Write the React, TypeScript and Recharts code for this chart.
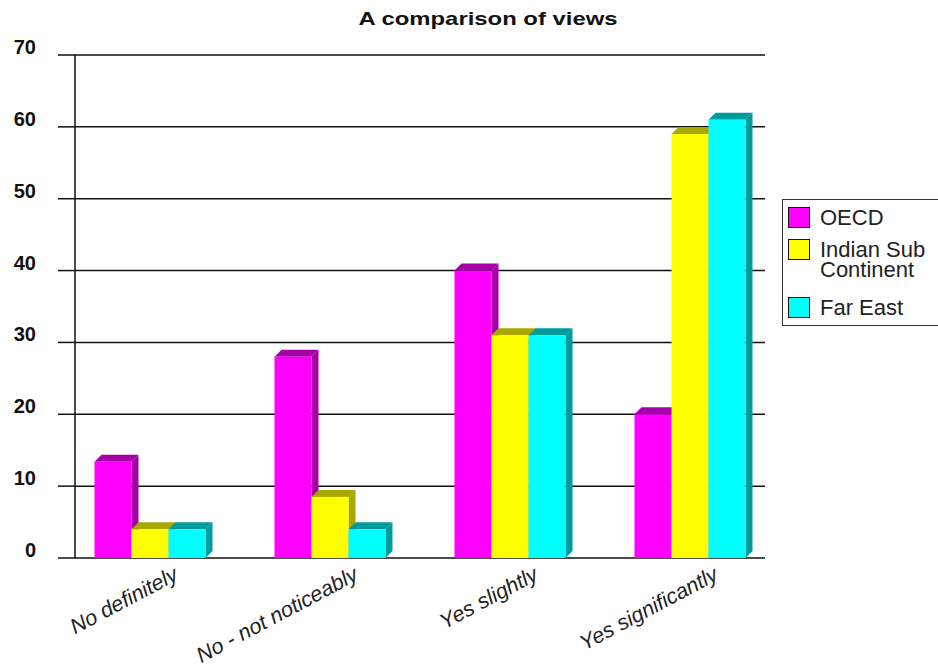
import React from 'react';
import { BarChart, Bar, XAxis, YAxis, CartesianGrid, Legend } from 'recharts';

const categories = ['No definitely', 'No - not noticeably', 'Yes slightly', 'Yes significantly'];
const oecd = [13.4, 28, 40, 20];
const indianSub = [4, 8.5, 31, 59];
const farEast = [4, 4, 31, 61];
const yTicks = [0, 10, 20, 30, 40, 50, 60, 70];
const seriesNames = ['OECD', 'Indian Sub Continent', 'Far East'];
const seriesLegendLines = [['OECD'], ['Indian Sub', 'Continent'], ['Far East']];
const seriesKeys = ['oecd', 'indian', 'far'];
const seriesColors = ['#FF00FF', '#FFFF00', '#00FFFF'];
const seriesDark = ['#A800A8', '#A8A800', '#009C9C'];

const data = categories.map((c, i) => ({
  category: c,
  oecd: oecd[i],
  indian: indianSub[i],
  far: farEast[i],
}));

const FONT = '"Liberation Sans", Arial, Helvetica, sans-serif';
const DEPTH = 7;

const make3D = (dark: string) => (props: any) => {
  const { x, y, width, height, fill } = props;
  if (x == null || y == null || !width || height == null) return null;
  const d = DEPTH;
  const top = `${x},${y} ${x + d},${y - d} ${x + width + d},${y - d} ${x + width},${y}`;
  const side = `${x + width},${y} ${x + width + d},${y - d} ${x + width + d},${y + height - d} ${x + width},${y + height}`;
  return (
    <g>
      <polygon points={side} fill={dark} />
      <polygon points={top} fill={dark} />
      <rect x={x} y={y} width={width} height={height} fill={fill} />
    </g>
  );
};

const YTick = (props: any) => {
  const { x, y, payload } = props;
  return (
    <text
      x={x - 20}
      y={y - 8}
      textAnchor="end"
      dominantBaseline="central"
      fontFamily={FONT}
      fontWeight="bold"
      fontSize={20}
      fill="#111"
    >
      {payload.value}
    </text>
  );
};

const XTick = (props: any) => {
  const { x, y, payload } = props;
  return (
    <g transform={`translate(${x + 30},${y + 21})`}>
      <text
        transform="rotate(-28)"
        textAnchor="end"
        fontFamily={FONT}
        fontStyle="italic"
        fontSize={21.5}
        fill="#222"
      >
        {payload.value}
      </text>
    </g>
  );
};

const LegendBox = () => {
  const swatchTops = [7, 39, 97];
  const textTops = [8, 40, 98];
  return (
    <div
      style={{
        position: 'relative',
        width: 170,
        height: 127,
        border: '1px solid #333',
        boxSizing: 'border-box',
        background: '#fff',
        fontFamily: FONT,
        fontSize: 22,
        lineHeight: '20px',
        color: '#222',
      }}
    >
      {seriesNames.map((name, i) => (
        <React.Fragment key={name}>
          <div
            style={{
              position: 'absolute',
              left: 5,
              top: swatchTops[i],
              width: 22,
              height: 21,
              background: seriesColors[i],
              border: '1.5px solid #111',
              boxSizing: 'border-box',
            }}
          />
          <div style={{ position: 'absolute', left: 37, top: textTops[i], whiteSpace: 'nowrap' }}>
            {seriesLegendLines[i].map((line) => (
              <div key={line}>{line}</div>
            ))}
          </div>
        </React.Fragment>
      ))}
    </div>
  );
};

export default function App() {
  return (
    <div
      style={{
        position: 'absolute',
        left: 0,
        top: 0,
        width: 938,
        height: 670,
        overflow: 'hidden',
        background: '#fff',
      }}
    >
      <BarChart
        width={938}
        height={670}
        data={data}
        margin={{ top: 55, right: 173, bottom: 0, left: 0 }}
        barGap={0}
        barSize={37}
      >
        <text
          x={488}
          y={25}
          textAnchor="middle"
          fontFamily={FONT}
          fontWeight="bold"
          fontSize={19}
          textLength={259}
          lengthAdjust="spacingAndGlyphs"
          fill="#111"
        >
          A comparison of views
        </text>
        <CartesianGrid vertical={false} stroke="#111" strokeWidth={1.5} />
        <XAxis
          dataKey="category"
          height={112}
          axisLine={false}
          tickLine={false}
          tickSize={0}
          tickMargin={0}
          interval={0}
          padding={{ left: -15.5, right: -14.5 }}
          tick={<XTick />}
        />
        <YAxis
          width={75}
          domain={[0, 70]}
          ticks={yTicks}
          interval={0}
          axisLine={{ stroke: '#111', strokeWidth: 1.5 }}
          tickLine={{ stroke: '#111', strokeWidth: 1.5 }}
          tickSize={17}
          tick={<YTick />}
        />
        <Legend
          layout="horizontal"
          verticalAlign="middle"
          align="center"
          content={<LegendBox />}
          wrapperStyle={{ left: 782, top: 199, width: 170, height: 127 }}
        />
        {seriesKeys.map((k, i) => (
          <Bar
            key={k}
            dataKey={k}
            name={seriesNames[i]}
            fill={seriesColors[i]}
            isAnimationActive={false}
            shape={make3D(seriesDark[i])}
          />
        ))}
      </BarChart>
    </div>
  );
}
